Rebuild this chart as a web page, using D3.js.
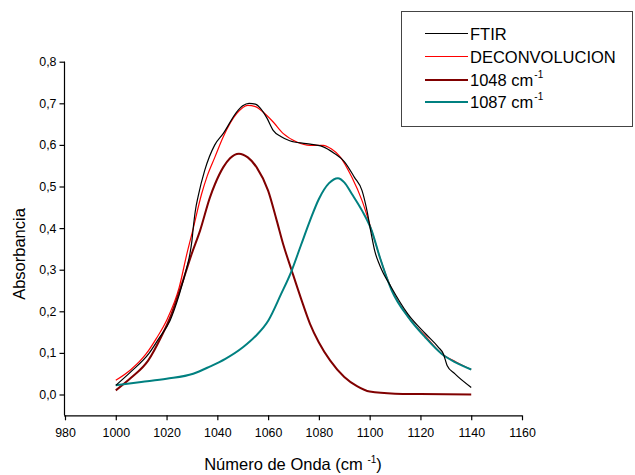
<!DOCTYPE html>
<html><head><meta charset="utf-8">
<script src="https://cdn.jsdelivr.net/npm/d3@7/dist/d3.min.js"></script>
<style>body{margin:0;background:#fff}svg{display:block;font-family:Arial,"Liberation Sans",sans-serif}</style>
</head><body>
<svg id="c" width="635" height="475"></svg>
<script>
const xTicks = [980,1000,1020,1040,1060,1080,1100,1120,1140,1160];
const yTicks = [0,0.1,0.2,0.3,0.4,0.5,0.6,0.7,0.8];
const seriesNames = ["FTIR","DECONVOLUCION","1048 cm","1087 cm"];
const ftirX = [1000,1006,1013,1017,1021.4,1025,1028,1029.2,1030,1030.5,1031.3,1032.5,1035,1039,1042.3,1047.6,1050,1052.5,1055,1057,1059.5,1062,1065,1068.5,1075,1081.5,1086,1090,1094,1097,1099,1100.5,1102,1104,1108.5,1115,1122,1127,1129,1130.5,1133.5,1140];
const ftirY = [0.022,0.055,0.098,0.135,0.178,0.24,0.306,0.338,0.37,0.40,0.44,0.478,0.538,0.60,0.627,0.679,0.694,0.70,0.698,0.688,0.665,0.635,0.62,0.61,0.603,0.596,0.58,0.56,0.522,0.49,0.44,0.39,0.345,0.31,0.258,0.194,0.146,0.114,0.098,0.07,0.05,0.017];
const decX = [1000,1006,1012,1016,1020,1025,1028,1030.3,1033.8,1036,1039,1042.3,1047.6,1052,1055,1058,1062,1066,1071.3,1076.5,1081.7,1085,1088.3,1093,1097,1100.8,1104,1108.7,1115,1122,1128,1134,1140];
const decY = [0.034,0.06,0.098,0.135,0.178,0.258,0.338,0.394,0.482,0.525,0.57,0.619,0.675,0.695,0.692,0.679,0.655,0.627,0.607,0.599,0.599,0.59,0.572,0.522,0.466,0.394,0.33,0.252,0.188,0.14,0.10,0.078,0.06];
const p1048X = [1000,1006,1012.8,1018,1022,1026,1029.9,1033.2,1037.1,1039.1,1042.3,1045,1048.5,1052,1055.5,1060,1063.4,1066,1069.3,1073,1076.5,1080,1084.4,1090,1095,1100,1110,1120,1140];
const p1048Y = [0.01,0.04,0.082,0.14,0.194,0.265,0.338,0.394,0.474,0.506,0.546,0.568,0.579,0.57,0.546,0.49,0.418,0.36,0.298,0.23,0.17,0.125,0.082,0.042,0.02,0.007,0.002,0.001,0.0];
const p1087X = [1000,1010,1020,1030.5,1037,1043,1050.2,1055,1060.1,1065,1069.3,1073,1076.5,1080,1084,1087.5,1090,1093,1097,1100.8,1104,1108.7,1115.2,1121.8,1128.3,1133.6,1140];
const p1087Y = [0.022,0.03,0.038,0.05,0.067,0.085,0.114,0.14,0.178,0.24,0.298,0.36,0.418,0.47,0.508,0.52,0.51,0.482,0.442,0.394,0.33,0.25,0.186,0.138,0.098,0.078,0.06];

const svg = d3.select("#c");
const x = d3.scaleLinear().domain([980,1160]).range([65,522]);
const y = d3.scaleLinear().domain([-0.05,0.8]).range([415.3,61.7]);

const fmt = d => d3.format(".1f")(d).replace(".", ",");
const FONT = "Arial, 'Liberation Sans', sans-serif";

const gx = svg.append("g").attr("transform","translate(0,415.3)");
gx.call(d3.axisBottom(x).tickValues(d3.range(990,1160,20)).tickSize(3).tickFormat(""));
gx.call(d3.axisBottom(x).tickValues(xTicks).tickSize(5).tickPadding(8).tickFormat(d3.format("d")));
gx.selectAll(".domain").attr("d","M64,0.5H522");
gx.selectAll("path,line").attr("stroke","#000").attr("stroke-width",1.2);
gx.selectAll("text").attr("font-size",12.4).attr("fill","#000").attr("font-family",FONT);

const gy = svg.append("g").attr("transform","translate(65,0)");
gy.call(d3.axisLeft(y).tickValues(d3.range(0.05,0.8,0.1)).tickSize(3).tickFormat(""));
gy.call(d3.axisLeft(y).tickValues(yTicks).tickSize(5.5).tickPadding(3).tickFormat(fmt));
gy.selectAll(".domain").attr("d","M-0.5,61.7V415.3");
gy.selectAll("path,line").attr("stroke","#000").attr("stroke-width",1.2);
gy.selectAll("text").attr("font-size",12.4).attr("fill","#000").attr("font-family",FONT);

// axis titles
const xt = svg.append("text").attr("x",293).attr("y",470).attr("text-anchor","middle").attr("font-size",16.5);
xt.append("tspan").text("Número de Onda (cm ");
xt.append("tspan").attr("font-size",10).attr("dy",-7).text("-1");
xt.append("tspan").attr("dy",7).text(")");
svg.append("text").attr("transform","translate(25,254) rotate(-90)").attr("text-anchor","middle").attr("font-size",16.5).text("Absorbancia");

const line = d3.line().x(d=>x(d[0])).y(d=>y(d[1])).curve(d3.curveMonotoneX);
const zip = (a,b)=>a.map((v,i)=>[v,b[i]]);
const series = [
  {data:zip(decX,decY), color:"#ff0000", w:1.2},
  {data:zip(p1048X,p1048Y), color:"#800000", w:2},
  {data:zip(p1087X,p1087Y), color:"#008080", w:2},
  {data:zip(ftirX,ftirY), color:"#000000", w:1.2}
];
series.forEach(s=>{
  svg.append("path").attr("d",line(s.data)).attr("fill","none").attr("stroke",s.color).attr("stroke-width",s.w);
});

// legend
svg.append("rect").attr("x",401.5).attr("y",11.5).attr("width",231).attr("height",115).attr("fill","#fff").attr("stroke","#444").attr("stroke-width",1);
const legColors = ["#000000","#ff0000","#800000","#008080"];
const legW = [1.2,1.2,2,2];
const legY = [33.5,56.5,80,102];
seriesNames.forEach((n,i)=>{
  svg.append("line").attr("x1",425).attr("x2",468).attr("y1",legY[i]).attr("y2",legY[i]).attr("stroke",legColors[i]).attr("stroke-width",legW[i]);
  const t = svg.append("text").attr("x",470).attr("y",legY[i]+6).attr("font-size",16.5);
  t.append("tspan").text(n);
  if(i>=2){ t.append("tspan").attr("font-size",10).attr("dy",-8).attr("dx",1).text("-1"); }
});
</script>
</body></html>
